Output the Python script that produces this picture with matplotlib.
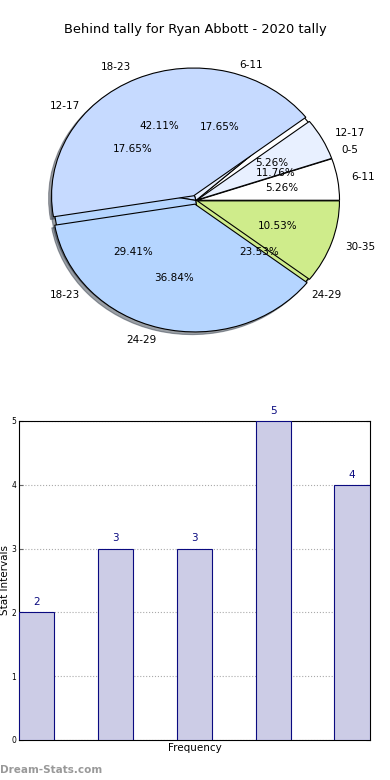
import numpy as np
import matplotlib
matplotlib.use('Agg')
import matplotlib.pyplot as plt

title = 'Behind tally for Ryan Abbott - 2020 tally'

# pie drawn on top (19 in total)
top_labels = ['6-11', '12-17', '18-23', '24-29', '30-35']
top_values = [1, 1, 8, 7, 2]
top_explode = [0.01, 0.01, 0.04, 0.03, 0.01]

# pie underneath (17 in total), same counts as the bars
under_labels = ['0-5', '6-11', '12-17', '18-23', '24-29']
under_values = [2, 3, 3, 5, 4]

bar_values = [2, 3, 3, 5, 4]

pie_colors = ['#FFFFFF', '#E8F0FF', '#C6DAFF', '#B5D5FF', '#CFEC8B']
navy = '#0A0A80'

fig = plt.figure(figsize=(3.9, 7.8), dpi=100)
fig.suptitle(title, y=0.971, fontsize=9.4)

# --- pie section (slightly squashed, like the original) ---
ax = fig.add_axes([0.118, 0.553, 0.769, 0.38])
wp = dict(edgecolor='black', linewidth=0.8)
tp = dict(fontsize=7.5)
shd = dict(ox=-0.015, oy=-0.015)
ax.pie(under_values, labels=under_labels, colors=pie_colors,
       autopct='%1.2f%%', shadow=shd, wedgeprops=wp, textprops=tp)
ax.pie(top_values, labels=top_labels, colors=pie_colors, explode=top_explode,
       autopct='%1.2f%%', shadow=shd, wedgeprops=wp, textprops=tp)
ax.set_aspect('auto')
ax.set_xlim(-1.055, 1.055)
ax.set_ylim(-1.16, 1.16)
ax.axis('off')

# --- bar section ---
bx = fig.add_axes([0.0487, 0.0513, 0.9, 0.409])
x = np.arange(len(bar_values))
width = 0.45
bx.bar(x, bar_values, width, align='edge', color='#CCCCE6',
       edgecolor=navy, linewidth=0.8, zorder=3)
for xi, v in zip(x, bar_values):
    bx.text(xi + width / 2, v + 0.08, str(v), ha='center', va='bottom',
            fontsize=7.5, color=navy)
bx.set_xlim(0, len(bar_values) - 1 + width)
bx.set_ylim(0, 5)
bx.set_xticks([])
bx.set_yticks(range(6))
bx.tick_params(axis='y', labelsize=5.5, direction='in', length=3,
               right=True, color='#666666', pad=2)
bx.yaxis.grid(True, ls=':', color='#aaaaaa', lw=0.8, zorder=0)
bx.set_xlabel('Frequency', fontsize=7.5, labelpad=2)
bx.set_ylabel('Stat Intervals', fontsize=7.5, labelpad=1)
for s in bx.spines.values():
    s.set_linewidth(0.8)

fig.text(0.0, 0.013, 'Dream-Stats.com', fontsize=7.5, color='#999999',
         fontweight='bold', ha='left', va='center')

fig.savefig('out.png', dpi=100)
